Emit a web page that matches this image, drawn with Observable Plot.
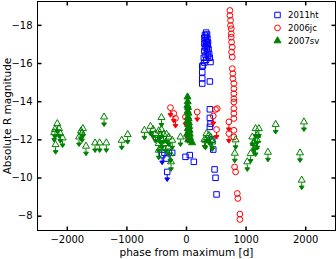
<!DOCTYPE html>
<html><head><meta charset="utf-8">
<script src="https://cdn.jsdelivr.net/npm/d3@7"></script>
<script src="https://cdn.jsdelivr.net/npm/@observablehq/plot@0.6"></script>
<style>body{margin:0;background:#fff} #chart{width:336px;height:259px}</style>
</head><body><div id="chart"></div>
<script>
const seriesNames = ["2011ht", "2006jc", "2007sv"];
const seriesColors = ["#0000ff", "#ff0000", "#008000"];
const xTicks = [-2000, -1000, 0, 1000, 2000];
const yTicks = [-18, -16, -14, -12, -10, -8];

// 2011ht detections
const ht_phase = [264,264,264,264,275,330,310,345,325,300,350,320,340,360,300,330,355,310,340,370,300,350,380,320,360,290,390,330,403,300,392,392,392,403,392,432,449,471,487,504,-17,55,123,-370,-297,-240,-336];
const ht_mag   = [-15.85,-15.54,-15.22,-14.95,-15.9,-17.62,-17.5,-17.52,-17.4,-17.35,-17.3,-17.2,-17.15,-17.1,-17.05,-17.0,-16.95,-16.85,-16.8,-16.75,-16.65,-16.6,-16.5,-16.45,-16.4,-16.3,-16.3,-16.2,-16.08,-16.05,-15.06,-13.6,-13.15,-12.85,-12.68,-12.02,-11.49,-10.45,-10.01,-9.14,-11.11,-11.2,-10.85,-11.32,-11.32,-11.32,-11.02];
// 2011ht upper limits
const htLim_phase = [-408, -324];
const htLim_mag   = [-11.2, -10.32];

// 2006jc detections
const jc_phase = [728,728,739,739,751,751,751,756,768,756,768,768,778,778,795,795,795,795,795,795,795,795,795,795,807,824,852,862,896,896,39,39,22,516,487];
const jc_mag   = [-18.78,-18.52,-18.26,-17.99,-17.82,-17.56,-17.38,-17.12,-16.86,-16.6,-16.34,-15.73,-15.47,-15.21,-14.95,-14.68,-14.42,-14.16,-13.98,-13.64,-13.38,-13.12,-12.5,-12.15,-10.58,-10.32,-9.19,-8.93,-8.11,-7.83,-12.5,-12.33,-12.07,-13.64,-13.59];
// 2006jc upper limits
const jcLim_phase = [-269,-213,-185,-17,12,180,449,504,711,711];
const jcLim_mag   = [-13.69,-13.38,-13.12,-13.2,-12.85,-13.46,-13.25,-12.54,-12.94,-12.33];

// 2007sv detections
const sv_phase = [17,20,15,25,20,30,25,35,20,40,30,45,25,50,35,55,40,60,30,65,95,10];
const sv_mag   = [-14.25,-14.0,-13.8,-13.7,-13.5,-13.4,-13.2,-13.1,-13.0,-12.9,-12.8,-12.7,-12.6,-12.5,-12.4,-12.3,-12.2,-12.1,-12.0,-11.95,-11.85,-12.3];
// 2007sv upper limits
const svLim_phase = [-2168,-2207,-2139,-2118,-2079,-2220,-2197,-1738,-1770,-1753,-1803,-1686,-1383,-1534,-1457,-1345,-1087,-987,-706,-605,-560,-521,-466,-420,-437,-382,-336,-297,-240,-408,-466,-353,-297,-466,-269,-260,-420,-101,319,375,432,303,336,403,432,824,810,1076,1020,1104,1131,1160,1188,1215,1160,1131,1188,1496,1366,1971,1904,1933];
const svLim_mag   = [-12.85,-12.55,-12.59,-12.33,-12.10,-12.38,-11.75,-12.59,-12.47,-12.36,-12.15,-11.67,-13.2,-11.84,-11.84,-11.84,-11.98,-12.28,-12.5,-12.71,-12.54,-12.33,-12.47,-12.54,-12.24,-12.29,-12.29,-12.15,-11.98,-11.98,-11.81,-11.81,-11.63,-11.46,-11.28,-10.85,-13.17,-12.15,-11.98,-12.24,-11.98,-12.02,-12.33,-12.15,-11.89,-12.0,-11.3,-11.28,-10.85,-12.15,-11.81,-12.59,-11.98,-12.59,-11.63,-11.89,-12.24,-12.81,-11.35,-12.94,-11.32,-9.89];

const pts = (ph, mg) => ph.map((p, i) => ({phase: p, mag: mg[i]}));
const ht = pts(ht_phase, ht_mag), htLim = pts(htLim_phase, htLim_mag);
const jc = pts(jc_phase, jc_mag), jcLim = pts(jcLim_phase, jcLim_mag);
const sv = pts(sv_phase, sv_mag), svLim = pts(svLim_phase, svLim_mag);

const arrowSym = {draw(c){ c.moveTo(0,2.6); c.lineTo(0,6.5); c.moveTo(-2.4,6); c.lineTo(2.4,6); c.lineTo(0,9.6); c.closePath(); }};
const tickUp = {draw(c){ c.moveTo(0,0); c.lineTo(0,-4); }};
const tickDown = {draw(c){ c.moveTo(0,0); c.lineTo(0,4); }};
const tickRight = {draw(c){ c.moveTo(0,0); c.lineTo(4,0); }};
const tickLeft = {draw(c){ c.moveTo(0,0); c.lineTo(-4,0); }};

const [cB, cR, cG] = seriesColors;
const sq = {r: 3.1, symbol: "square"}, ci = {r: 2.9, symbol: "circle"}, tri = {r: 2.6, symbol: "triangle"};
const xy = {x: "phase", y: "mag"};

const svg = Plot.plot({
  width: 336, height: 259,
  marginLeft: 37, marginRight: 1, marginTop: 1, marginBottom: 29,
  style: {fontFamily: "DejaVu Sans", fontSize: "10px", background: "#fff", color: "black"},
  x: {domain: [-2500, 2500], label: null},
  y: {domain: [-7.25, -19.25], label: null},
  marks: [
    Plot.axisX(xTicks, {tickSize: 0, tickPadding: 5, tickFormat: d3.format("d"), label: null}),
    Plot.axisY(yTicks, {tickSize: 0, tickPadding: 5, tickFormat: d3.format("d"), label: null}),
    Plot.dot(xTicks, {x: d => d, frameAnchor: "bottom", symbol: tickUp, stroke: "black", fill: "none"}),
    Plot.dot(xTicks, {x: d => d, frameAnchor: "top", symbol: tickDown, stroke: "black", fill: "none"}),
    Plot.dot(yTicks, {y: d => d, frameAnchor: "left", symbol: tickRight, stroke: "black", fill: "none"}),
    Plot.dot(yTicks, {y: d => d, frameAnchor: "right", symbol: tickLeft, stroke: "black", fill: "none"}),
    // 2011ht
    Plot.dot(ht, {...xy, ...sq, stroke: cB, fill: "none", strokeWidth: 1}),
    Plot.dot(htLim, {...xy, ...sq, stroke: cB, fill: "none", strokeWidth: 1}),
    Plot.dot(htLim, {...xy, symbol: arrowSym, stroke: cB, fill: cB, strokeWidth: 1}),
    // 2006jc
    Plot.dot(jc, {...xy, ...ci, stroke: cR, fill: "none", strokeWidth: 1}),
    Plot.dot(jcLim, {...xy, ...ci, stroke: cR, fill: "none", strokeWidth: 1}),
    Plot.dot(jcLim, {...xy, symbol: arrowSym, stroke: cR, fill: cR, strokeWidth: 1}),
    // 2007sv
    Plot.dot(sv, {...xy, ...tri, stroke: cG, fill: cG, strokeWidth: 1}),
    Plot.dot(svLim, {...xy, ...tri, stroke: cG, fill: "none", strokeWidth: 1}),
    Plot.dot(svLim, {...xy, symbol: arrowSym, stroke: cG, fill: cG, strokeWidth: 1}),
    Plot.frame({stroke: "black"}),
    Plot.text(["Absolute R magnitude"], {text: d => d, frameAnchor: "left", dx: -27, rotate: -90, textAnchor: "middle", lineAnchor: "bottom", fontSize: 10.5, fill: "black"}),
    Plot.text(["phase from maximum [d]"], {text: d => d, frameAnchor: "bottom", dy: 25, textAnchor: "middle", lineAnchor: "bottom", fontSize: 10.5, fill: "black"})
  ]
});

// legend (top-right, no frame)
const legSyms = [d3.symbolSquare, d3.symbolCircle, d3.symbolTriangle];
const legSizes = [30, 26, 21];
const legFill = ["none", "none", cG];
const g = d3.select(svg).append("g").attr("font-family", "DejaVu Sans").attr("font-size", "8.6px").attr("text-anchor", "start");
seriesNames.forEach((name, i) => {
  const yy = 15 + i * 12.9;
  g.append("path").attr("d", d3.symbol(legSyms[i], legSizes[i])())
    .attr("transform", `translate(277.5,${yy})`)
    .attr("stroke", seriesColors[i]).attr("fill", legFill[i]).attr("stroke-width", 1);
  g.append("text").attr("x", 288).attr("y", yy + 3.2).attr("fill", "black").attr("text-anchor", "start").text(name);
});

document.getElementById("chart").appendChild(svg);
</script>
</body></html>
